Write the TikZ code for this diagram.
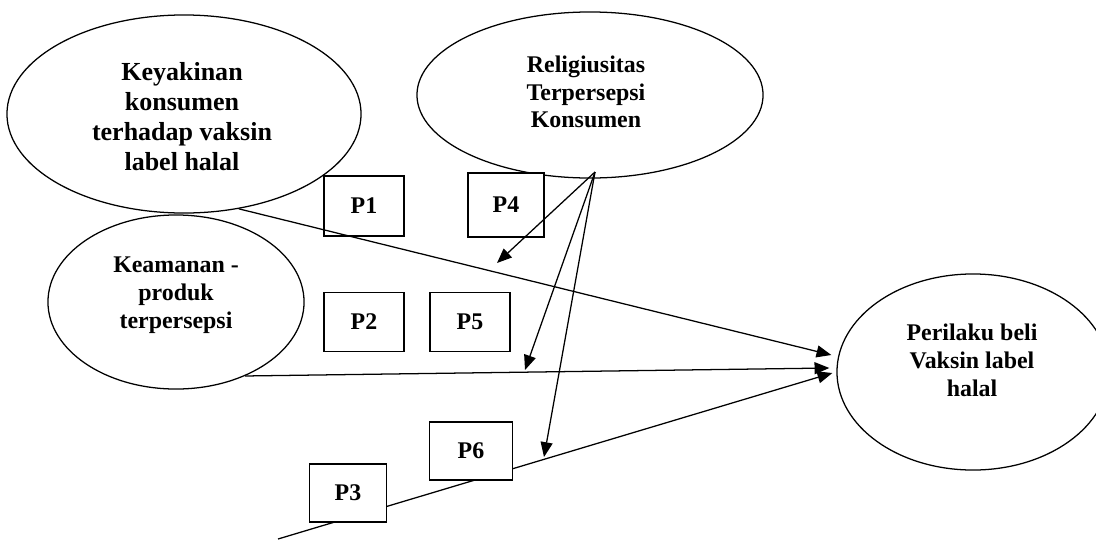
\documentclass[tikz,border=0pt]{standalone}
\usepackage{fontspec}
\setmainfont{Liberation Serif}
\usetikzlibrary{arrows.meta,shapes.geometric}

\begin{document}
\begin{tikzpicture}[x=0.025cm,y=-0.025cm,
	oval/.style={draw,ellipse,line width=0.9pt,inner sep=0pt},
	txt/.style={align=center,inner sep=0pt,font=\fontsize{17}{19.8}\selectfont\bfseries},
	pbox/.style={draw,fill=white,line width=0.9pt,minimum width=2cm,minimum height=1.5cm,inner sep=0pt,font=\fontsize{17}{20}\selectfont\bfseries},
	link/.style={line width=0.9pt,-{Triangle[length=0.37cm,width=0.3cm]}}]
	\useasboundingbox (0,0) rectangle (1096,540);
	\clip (0,0) rectangle (1096,540);
	\node[oval,minimum width=8.85cm,minimum height=4.95cm] (kya) at (184,114) {};
	\node[oval,minimum width=8.65cm,minimum height=4.15cm] (rel) at (590,95) {};
	\node[oval,minimum width=6.4cm,minimum height=4.35cm] (kam) at (176,302) {};
	\node[oval,minimum width=6.8cm,minimum height=4.9cm] (per) at (973,372) {};
	\node[txt,font=\fontsize{18.5}{21.3}\selectfont\bfseries] (kya-t) at (182,117) {Keyakinan\\konsumen\\terhadap vaksin\\label halal};
	\node[txt] (rel-t) at (586,92) {Religiusitas\\Terpersepsi\\Konsumen};
	\node[txt] (kam-t) at (176,295) {Keamanan -\\produk\\terpersepsi};
	\node[txt] (per-t) at (972,360) {Perilaku beli\\Vaksin label\\halal};
	\coordinate (p3in) at (278,539);
	\draw[link] (p3in) -- ([shift={(-4,1)}]per.west);
	\node[pbox] (p1) at (364,206) {P1};
	\node[pbox,minimum width=1.9cm,minimum height=1.6cm] (p4) at (506,205) {P4};
	\node[pbox,minimum height=1.475cm] (p2) at (364,322) {P2};
	\node[pbox,minimum height=1.475cm] (p5) at (470,322) {P5};
	\node[pbox,minimum width=2.075cm,minimum height=1.45cm] (p6) at (471,451) {P6};
	\node[pbox,minimum width=1.925cm,minimum height=1.45cm] (p3) at (348,493) {P3};
	\draw[link] (kya.-60) -- ([shift={(-5,-17)}]per.west);
	\draw[link] (kam.-47) -- ([shift={(-7,-4)}]per.west);
	\coordinate (mod) at (595,172);
	\coordinate (m1) at (497,263);
	\coordinate (m2) at (525,370);
	\coordinate (m3) at (544,457);
	\draw[link] (mod) -- (m1);
	\draw[link] (mod) -- (m2);
	\draw[link] (mod) -- (m3);
\end{tikzpicture}
\end{document}
